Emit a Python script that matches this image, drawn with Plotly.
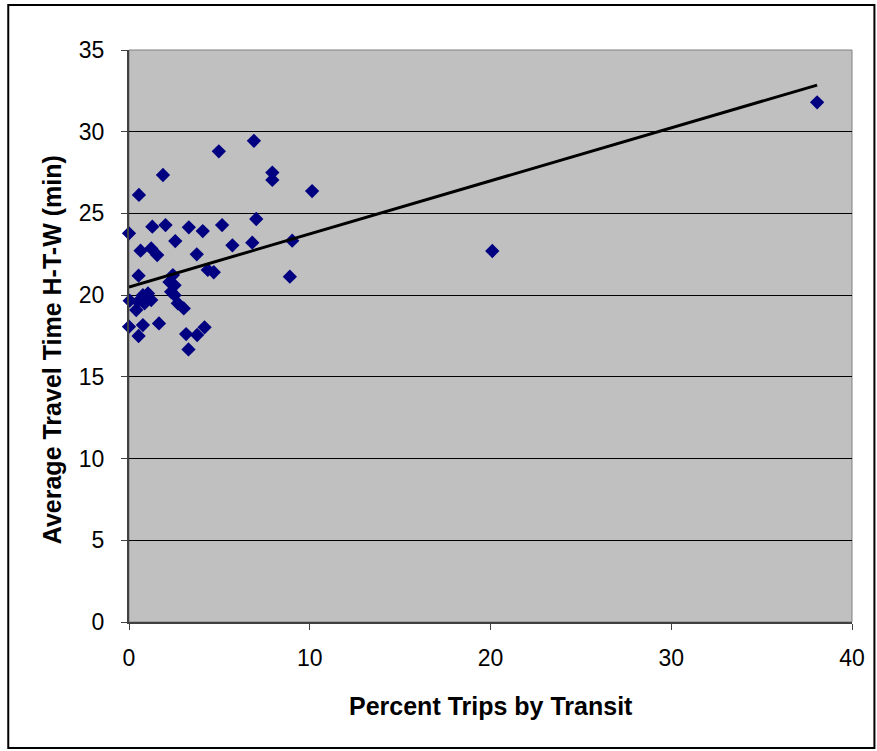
import plotly.graph_objects as go

# Data
pct_transit = [
    0.00, 0.55, 1.88, 1.29, 2.02, 3.31, 4.08, 5.15, 2.56, 0.64,
    1.23, 1.56, 3.75, 0.53, 4.36, 4.69, 2.43, 2.24, 2.52, 2.33,
    2.52, 2.70, 3.03, 0.04, 0.77, 1.05, 1.23, 0.86, 0.40, 0.50,
    0.00, 0.77, 0.53, 1.66, 3.16, 3.77, 4.18, 3.29, 6.91, 4.97,
    7.93, 7.93, 10.13, 7.04, 5.72, 6.82, 9.03, 8.90, 20.10, 38.07,
]
travel_time = [
    23.78, 26.13, 27.35, 24.19, 24.29, 24.15, 23.92, 24.29, 23.31, 22.72,
    22.86, 22.45, 22.50, 21.19, 21.54, 21.40, 21.23, 20.80, 20.60, 20.20,
    20.00, 19.50, 19.19, 19.66, 20.00, 20.10, 19.70, 19.50, 19.09, 19.60,
    18.07, 18.17, 17.50, 18.27, 17.62, 17.56, 18.03, 16.68, 29.44, 28.80,
    27.50, 27.05, 26.37, 24.66, 23.05, 23.21, 23.33, 21.13, 22.70, 31.80,
]
x_ticks = [0, 10, 20, 30, 40]
y_ticks = [0, 5, 10, 15, 20, 25, 30, 35]

# Linear trendline (intercept, slope)
trend_intercept = 20.5
trend_slope = 0.3245
trend_x = [min(pct_transit), max(pct_transit)]
trend_y = [trend_intercept + trend_slope * v for v in trend_x]

FONT = "Liberation Sans, Arial, sans-serif"

fig = go.Figure()
fig.add_trace(go.Scatter(
    x=pct_transit, y=travel_time, mode="markers",
    marker=dict(symbol="diamond", size=11, color="#000080",
                line=dict(width=0)),
    cliponaxis=False,
    showlegend=False, hoverinfo="x+y",
))
fig.add_trace(go.Scatter(
    x=trend_x, y=trend_y, mode="lines",
    line=dict(color="black", width=3),
    cliponaxis=False,
    showlegend=False, hoverinfo="skip",
))

fig.update_layout(
    width=877, height=751,
    margin=dict(l=129, r=23, t=50, b=129),
    paper_bgcolor="white",
    plot_bgcolor="#C0C0C0",
    font=dict(family=FONT, size=23, color="black"),
    xaxis=dict(
        range=[0, 40], tickvals=x_ticks, showgrid=False, zeroline=False,
        showline=True, linecolor="#404040", linewidth=2,
        ticks="outside", ticklen=6, tickcolor="#404040", tickwidth=1,
        ticklabelstandoff=8,
    ),
    yaxis=dict(
        range=[0, 35], tickvals=y_ticks, showgrid=True, gridcolor="black",
        gridwidth=1, zeroline=False,
        showline=True, linecolor="#404040", linewidth=2,
        ticks="outside", ticklen=6, tickcolor="#404040", tickwidth=1,
        ticklabelstandoff=12,
    ),
    shapes=[
        # plot area border (top/right)
        dict(type="rect", xref="paper", yref="paper", x0=0, x1=1, y0=0, y1=1,
             line=dict(color="#808080", width=1), layer="below"),
        # outer chart frame
        dict(type="rect", xref="paper", yref="paper",
             x0=-0.167, x1=1.031, y0=-0.2203, y1=1.0787,
             line=dict(color="black", width=2)),
    ],
    annotations=[
        dict(text="<b>Percent Trips by Transit</b>", xref="paper", yref="paper",
             x=0.5, y=(622 - 706) / 572, xanchor="center", yanchor="middle",
             showarrow=False, font=dict(size=25, family=FONT)),
        dict(text="<b>Average Travel Time H-T-W (min)</b>", xref="paper", yref="paper",
             x=(52 - 129) / 725, y=(622 - 350) / 572, xanchor="center", yanchor="middle",
             textangle=-90, showarrow=False, font=dict(size=25, family=FONT)),
    ],
)

fig.write_html("out.html")
